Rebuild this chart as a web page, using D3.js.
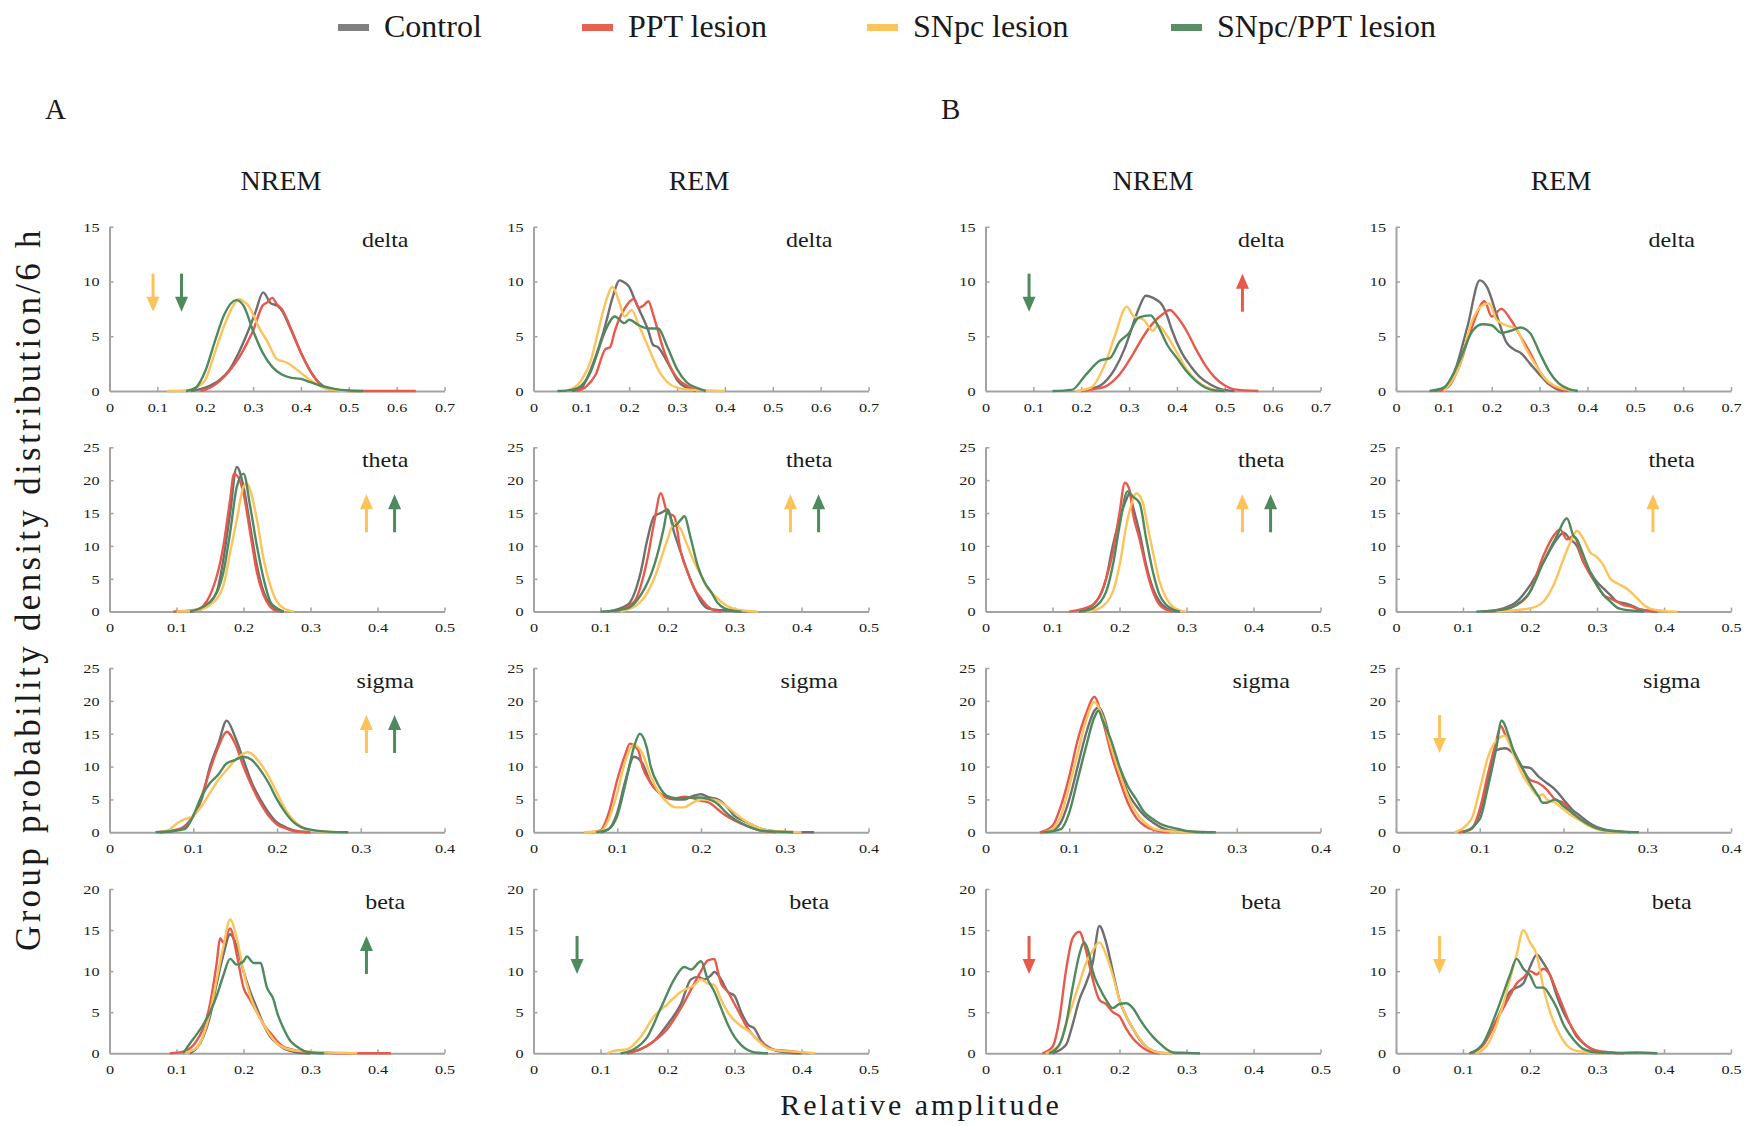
<!DOCTYPE html>
<html><head><meta charset="utf-8">
<script src="https://cdn.jsdelivr.net/npm/d3@7"></script>
<style>
html,body{margin:0;padding:0;background:#fff;}
svg{display:block;}
text{font-family:"Liberation Serif","Times New Roman",serif;fill:#1a1a1a;}
</style></head>
<body>
<svg id="chart" width="1747" height="1126"></svg>
<script>
// ---------- labels / categories ----------
const seriesNames = ["Control", "PPT lesion", "SNpc lesion", "SNpc/PPT lesion"];
const seriesColors = ["#6f6f6f", "#e8594b", "#fcc35a", "#4f8a5f"];
const legendColors = ["#808080", "#e8604e", "#fcc45c", "#5a8e66"];
const groupLabels = ["A", "B"];
const stateLabels = ["NREM", "REM", "NREM", "REM"];
const bandLabels = ["delta", "theta", "sigma", "beta"];
const xMaxByBand = [0.7, 0.5, 0.4, 0.5];
const yMaxByBand = [15, 25, 25, 20];
const xTicksDelta = [0, 0.1, 0.2, 0.3, 0.4, 0.5, 0.6, 0.7];
const xTicksTheta = [0, 0.1, 0.2, 0.3, 0.4, 0.5];
const xTicksSigma = [0, 0.1, 0.2, 0.3, 0.4];
const xTicksBeta = [0, 0.1, 0.2, 0.3, 0.4, 0.5];
const yTicksDelta = [0, 5, 10, 15];
const yTicksTheta = [0, 5, 10, 15, 20, 25];
const yTicksSigma = [0, 5, 10, 15, 20, 25];
const yTicksBeta = [0, 5, 10, 15, 20];
const yAxisTitle = "Group probability density distribution/6 h";
const xAxisTitle = "Relative amplitude";

// ---------- A: NREM delta ----------
const aNremDeltaCtrl = [[0.17,0],[0.20,0.3],[0.23,1.0],[0.25,1.9],[0.27,3.5],[0.29,5.5],[0.305,7.2],[0.321,9.0],[0.337,8.0],[0.35,7.8],[0.361,7.3],[0.375,6.0],[0.385,5.0],[0.40,3.5],[0.409,2.7],[0.42,1.8],[0.433,1.0],[0.445,0.5],[0.457,0.2],[0.48,0]];
const aNremDeltaPpt = [[0.19,0],[0.21,0.3],[0.23,0.9],[0.25,1.8],[0.27,3.0],[0.29,4.6],[0.30,5.5],[0.32,7.8],[0.33,8.1],[0.34,8.5],[0.35,7.9],[0.36,7.5],[0.38,5.6],[0.40,3.5],[0.42,1.8],[0.44,0.6],[0.46,0.15],[0.48,0.05],[0.52,0],[0.64,0]];
const aNremDeltaSnpc = [[0.12,0],[0.16,0.05],[0.18,0.3],[0.20,1.0],[0.22,3.5],[0.24,6.0],[0.255,7.5],[0.27,8.4],[0.28,8.2],[0.29,7.8],[0.30,7.0],[0.31,6.0],[0.33,4.5],[0.35,2.9],[0.37,2.6],[0.39,2.0],[0.41,1.3],[0.43,0.7],[0.45,0.25],[0.48,0.05],[0.52,0]];
const aNremDeltaBoth = [[0.16,0],[0.18,0.3],[0.20,1.8],[0.22,4.5],[0.24,7.0],[0.265,8.3],[0.28,7.8],[0.30,5.5],[0.32,3.5],[0.34,2.2],[0.36,1.5],[0.38,1.2],[0.40,1.1],[0.42,0.8],[0.44,0.5],[0.47,0.2],[0.50,0.05],[0.53,0]];
// ---------- A: REM delta ----------
const aRemDeltaCtrl = [[0.08,0],[0.10,0.3],[0.12,2.0],[0.14,4.5],[0.15,6.0],[0.165,8.5],[0.18,10.1],[0.19,9.9],[0.20,9.5],[0.21,8.5],[0.22,7.5],[0.24,5.5],[0.25,4.2],[0.26,4.0],[0.27,3.4],[0.28,2.6],[0.29,1.8],[0.30,1.0],[0.32,0.3],[0.34,0]];
const aRemDeltaPpt = [[0.09,0],[0.11,0.4],[0.13,1.5],[0.15,3.8],[0.16,4.0],[0.17,5.5],[0.19,7.5],[0.21,8.4],[0.22,7.6],[0.23,7.8],[0.24,8.2],[0.25,7.0],[0.26,5.5],[0.27,4.0],[0.28,2.8],[0.30,1.2],[0.32,0.5],[0.34,0.1],[0.36,0]];
const aRemDeltaSnpc = [[0.07,0],[0.10,1.0],[0.12,2.8],[0.13,4.5],[0.15,8.0],[0.165,9.5],[0.18,8.0],[0.19,6.8],[0.205,7.4],[0.22,6.0],[0.24,4.0],[0.26,2.0],[0.28,0.8],[0.30,0.3],[0.33,0.1],[0.36,0.05],[0.40,0]];
const aRemDeltaBoth = [[0.05,0],[0.08,0.1],[0.10,0.5],[0.12,1.8],[0.13,3.0],[0.15,5.5],[0.17,6.8],[0.19,6.2],[0.20,6.5],[0.22,6.0],[0.24,5.7],[0.26,5.7],[0.28,4.0],[0.30,2.0],[0.32,0.8],[0.34,0.3],[0.36,0]];
// ---------- B: NREM delta ----------
const bNremDeltaCtrl = [[0.20,0],[0.22,0.2],[0.24,0.5],[0.27,2.0],[0.29,3.8],[0.30,5.0],[0.32,7.5],[0.335,8.7],[0.35,8.5],[0.37,7.8],[0.38,6.8],[0.39,5.5],[0.41,3.5],[0.43,2.2],[0.45,1.2],[0.47,0.6],[0.49,0.2],[0.52,0]];
const bNremDeltaPpt = [[0.20,0],[0.23,0.2],[0.25,0.4],[0.28,1.5],[0.31,3.5],[0.33,5.0],[0.35,6.2],[0.37,7.0],[0.385,7.4],[0.40,6.8],[0.42,5.5],[0.44,3.8],[0.46,2.3],[0.48,1.2],[0.50,0.5],[0.52,0.15],[0.57,0]];
const bNremDeltaSnpc = [[0.19,0],[0.22,0.3],[0.25,2.5],[0.27,5.0],[0.295,7.7],[0.31,6.8],[0.33,6.5],[0.35,5.5],[0.36,6.0],[0.38,5.0],[0.40,3.5],[0.42,2.0],[0.44,1.0],[0.46,0.4],[0.48,0.1],[0.50,0]];
const bNremDeltaBoth = [[0.14,0],[0.18,0.1],[0.21,1.5],[0.24,2.8],[0.26,3.0],[0.28,4.5],[0.30,5.3],[0.32,6.7],[0.345,6.9],[0.36,6.0],[0.38,4.2],[0.40,3.0],[0.42,1.8],[0.44,0.9],[0.46,0.3],[0.48,0.05],[0.50,0]];
// ---------- B: REM delta ----------
const bRemDeltaCtrl = [[0.08,0],[0.10,0.3],[0.12,1.5],[0.15,6.0],[0.175,10.1],[0.19,9.5],[0.21,7.0],[0.23,4.5],[0.25,3.7],[0.26,3.5],[0.28,2.5],[0.30,1.5],[0.32,0.6],[0.34,0.1],[0.35,0]];
const bRemDeltaPpt = [[0.09,0],[0.11,0.4],[0.13,2.0],[0.16,6.0],[0.185,8.2],[0.20,6.8],[0.22,7.5],[0.24,6.5],[0.26,5.0],[0.28,3.5],[0.30,1.8],[0.32,0.7],[0.34,0.2],[0.36,0]];
const bRemDeltaSnpc = [[0.10,0],[0.13,2.0],[0.16,6.5],[0.18,7.8],[0.195,8.0],[0.21,6.5],[0.23,6.0],[0.25,5.7],[0.27,4.0],[0.29,2.5],[0.31,1.2],[0.33,0.5],[0.35,0.2],[0.37,0.05],[0.38,0]];
const bRemDeltaBoth = [[0.07,0],[0.10,0.3],[0.13,2.5],[0.16,5.5],[0.18,6.1],[0.20,6.0],[0.22,5.3],[0.24,5.5],[0.26,5.8],[0.28,5.3],[0.30,3.5],[0.32,1.8],[0.34,0.7],[0.36,0.2],[0.38,0]];

// ---------- A: NREM theta ----------
const aNremThetaCtrl = [[0.12,0],[0.14,0.5],[0.16,3.0],[0.17,8.0],[0.18,15.0],[0.19,22.0],[0.20,19.0],[0.21,13.0],[0.22,7.0],[0.23,3.0],[0.24,1.0],[0.25,0.2],[0.26,0]];
const aNremThetaPpt = [[0.095,0],[0.13,0.3],[0.15,2.5],[0.17,10.0],[0.18,17.0],[0.186,21.0],[0.20,18.0],[0.21,12.0],[0.22,6.0],[0.23,2.5],[0.24,0.7],[0.25,0.1],[0.26,0]];
const aNremThetaSnpc = [[0.10,0],[0.13,0.2],[0.15,1.0],[0.17,4.0],[0.18,9.0],[0.19,14.0],[0.20,19.0],[0.205,19.5],[0.21,18.5],[0.22,14.0],[0.23,8.0],[0.24,4.0],[0.25,1.5],[0.26,0.5],[0.27,0.1],[0.275,0]];
const aNremThetaBoth = [[0.12,0],[0.15,1.5],[0.17,6.0],[0.18,12.0],[0.19,19.0],[0.20,21.0],[0.21,16.0],[0.22,10.0],[0.23,5.0],[0.24,1.5],[0.25,0.5],[0.26,0]];
// ---------- A: REM theta ----------
const aRemThetaCtrl = [[0.11,0],[0.14,1.0],[0.16,6.0],[0.17,11.0],[0.18,14.5],[0.19,15.0],[0.20,15.5],[0.21,12.0],[0.22,9.0],[0.23,6.0],[0.24,3.5],[0.25,1.5],[0.26,0.5],[0.28,0.2],[0.30,0.1],[0.32,0]];
const aRemThetaPpt = [[0.12,0],[0.15,1.5],[0.17,8.0],[0.18,13.5],[0.19,18.0],[0.20,15.0],[0.21,14.5],[0.22,9.0],[0.23,6.0],[0.24,3.5],[0.25,2.0],[0.26,0.8],[0.27,0.2],[0.28,0]];
const aRemThetaSnpc = [[0.13,0],[0.16,1.5],[0.18,5.0],[0.20,11.0],[0.21,13.5],[0.22,12.5],[0.23,10.0],[0.24,7.5],[0.25,5.5],[0.26,3.5],[0.27,2.5],[0.28,1.5],[0.29,0.8],[0.30,0.4],[0.32,0.1],[0.335,0]];
const aRemThetaBoth = [[0.10,0],[0.14,0.5],[0.16,2.5],[0.18,7.0],[0.195,13.0],[0.20,15.5],[0.21,13.0],[0.22,14.0],[0.225,14.5],[0.235,11.0],[0.245,7.0],[0.255,4.5],[0.265,3.0],[0.275,1.3],[0.285,0.5],[0.30,0.1],[0.31,0]];
// ---------- B: NREM theta ----------
const bNremThetaCtrl = [[0.14,0],[0.16,1.0],[0.18,5.0],[0.19,10.0],[0.20,14.0],[0.21,17.0],[0.215,18.0],[0.22,16.0],[0.23,12.0],[0.24,7.0],[0.25,3.5],[0.26,1.5],[0.27,0.5],[0.28,0.1],[0.29,0]];
const bNremThetaPpt = [[0.125,0],[0.16,1.0],[0.18,5.0],[0.19,9.0],[0.20,15.0],[0.208,19.6],[0.215,18.5],[0.22,15.0],[0.23,11.0],[0.24,6.5],[0.25,3.0],[0.26,1.0],[0.27,0.3],[0.28,0]];
const bNremThetaSnpc = [[0.15,0],[0.17,0.5],[0.19,3.0],[0.20,7.0],[0.21,13.0],[0.22,17.0],[0.225,18.0],[0.235,16.5],[0.24,14.0],[0.25,9.0],[0.26,4.5],[0.27,2.0],[0.28,0.7],[0.29,0.2],[0.30,0]];
const bNremThetaBoth = [[0.14,0],[0.16,0.5],[0.18,3.0],[0.19,7.0],[0.20,13.0],[0.212,18.3],[0.22,17.5],[0.23,16.5],[0.24,11.0],[0.25,6.0],[0.26,2.5],[0.27,1.0],[0.28,0.3],[0.29,0]];
// ---------- B: REM theta ----------
const bRemThetaCtrl = [[0.13,0],[0.16,0.5],[0.18,1.5],[0.20,4.0],[0.22,7.5],[0.24,11.0],[0.25,12.0],[0.26,11.0],[0.27,10.0],[0.28,7.5],[0.29,6.0],[0.30,4.5],[0.31,3.5],[0.32,2.5],[0.33,1.5],[0.34,1.3],[0.35,1.0],[0.36,0.5],[0.38,0.1],[0.39,0]];
const bRemThetaPpt = [[0.14,0],[0.18,1.0],[0.20,3.0],[0.22,8.5],[0.235,11.5],[0.245,12.5],[0.255,11.0],[0.265,11.5],[0.28,7.5],[0.30,4.0],[0.31,2.5],[0.32,2.0],[0.33,1.5],[0.34,1.0],[0.35,0.8],[0.36,0.4],[0.38,0.1],[0.39,0]];
const bRemThetaSnpc = [[0.15,0],[0.20,0.5],[0.22,1.5],[0.235,4.0],[0.25,8.0],[0.26,10.5],[0.27,12.3],[0.28,11.0],[0.29,9.0],[0.30,8.3],[0.31,7.0],[0.32,5.0],[0.33,4.3],[0.34,3.8],[0.35,3.0],[0.36,2.0],[0.37,1.0],[0.38,0.4],[0.40,0.1],[0.42,0]];
const bRemThetaBoth = [[0.12,0],[0.16,0.3],[0.18,1.0],[0.20,3.0],[0.22,7.5],[0.24,11.5],[0.255,14.2],[0.265,11.5],[0.27,11.0],[0.28,8.5],[0.29,6.0],[0.30,4.0],[0.31,2.5],[0.32,1.5],[0.33,0.6],[0.34,0.3],[0.36,0.1],[0.37,0]];

// ---------- A: NREM sigma ----------
const aNremSigmaCtrl = [[0.06,0],[0.08,0.3],[0.10,2.5],[0.11,5.0],[0.12,10.0],[0.13,13.5],[0.14,17.0],[0.15,14.5],[0.16,11.0],[0.17,7.5],[0.18,5.0],[0.19,3.0],[0.20,1.5],[0.21,0.8],[0.22,0.3],[0.24,0]];
const aNremSigmaPpt = [[0.06,0],[0.09,0.8],[0.10,2.5],[0.11,5.5],[0.12,9.5],[0.13,13.0],[0.14,15.3],[0.15,13.5],[0.16,10.0],[0.17,7.0],[0.18,4.5],[0.19,2.5],[0.20,1.2],[0.21,0.6],[0.22,0.2],[0.24,0]];
const aNremSigmaSnpc = [[0.055,0],[0.07,0.3],[0.08,1.3],[0.09,2.0],[0.10,2.5],[0.11,4.0],[0.12,6.0],[0.13,8.0],[0.14,9.5],[0.15,11.0],[0.165,12.2],[0.18,10.5],[0.19,8.5],[0.20,6.0],[0.21,3.5],[0.22,1.8],[0.23,0.8],[0.24,0.3],[0.26,0.1],[0.28,0]];
const aNremSigmaBoth = [[0.055,0],[0.09,0.5],[0.10,2.5],[0.11,5.5],[0.12,7.5],[0.13,8.8],[0.14,10.5],[0.15,11.0],[0.16,11.5],[0.17,11.0],[0.18,9.5],[0.19,7.5],[0.20,5.0],[0.21,3.0],[0.22,1.5],[0.23,0.7],[0.24,0.4],[0.26,0.1],[0.285,0]];
// ---------- A: REM sigma ----------
const aRemSigmaCtrl = [[0.08,0],[0.09,0.5],[0.10,3.0],[0.11,8.0],[0.12,11.5],[0.13,10.5],[0.14,7.5],[0.15,6.0],[0.16,5.2],[0.17,5.0],[0.18,5.0],[0.19,5.5],[0.20,5.8],[0.21,5.3],[0.22,5.0],[0.23,4.0],[0.24,2.5],[0.25,1.8],[0.26,1.2],[0.27,0.6],[0.28,0.3],[0.30,0.1],[0.335,0]];
const aRemSigmaPpt = [[0.07,0],[0.08,0.3],[0.09,3.0],[0.10,8.0],[0.11,12.0],[0.115,13.5],[0.125,12.5],[0.13,10.0],[0.14,7.5],[0.15,6.0],[0.16,5.3],[0.17,5.2],[0.18,5.4],[0.19,5.2],[0.20,4.8],[0.21,4.5],[0.22,3.5],[0.23,2.5],[0.24,1.8],[0.25,1.2],[0.26,0.7],[0.27,0.3],[0.29,0]];
const aRemSigmaSnpc = [[0.06,0],[0.08,0.2],[0.09,2.0],[0.10,6.0],[0.11,11.0],[0.12,13.3],[0.13,12.0],[0.14,8.5],[0.15,6.0],[0.16,4.5],[0.17,3.8],[0.18,3.8],[0.19,4.5],[0.20,5.0],[0.21,5.0],[0.22,4.8],[0.23,4.0],[0.24,3.0],[0.25,2.0],[0.26,1.2],[0.27,0.6],[0.28,0.3],[0.30,0.1],[0.32,0]];
const aRemSigmaBoth = [[0.075,0],[0.09,0.5],[0.10,2.5],[0.11,7.5],[0.12,13.0],[0.127,15.0],[0.135,13.0],[0.14,10.0],[0.15,7.0],[0.16,5.5],[0.17,5.2],[0.18,5.2],[0.19,5.3],[0.20,5.3],[0.21,5.0],[0.22,4.3],[0.23,3.0],[0.24,2.0],[0.25,1.3],[0.26,0.7],[0.27,0.3],[0.29,0.1],[0.31,0]];
// ---------- B: NREM sigma ----------
const bNremSigmaCtrl = [[0.065,0],[0.08,0.3],[0.09,1.5],[0.10,5.0],[0.11,10.0],[0.12,15.0],[0.13,18.5],[0.135,19.0],[0.145,16.0],[0.15,13.0],[0.16,9.5],[0.17,6.0],[0.18,4.0],[0.19,2.5],[0.20,1.5],[0.21,0.7],[0.22,0.3],[0.24,0.1],[0.26,0]];
const bNremSigmaPpt = [[0.065,0],[0.08,1.0],[0.09,4.0],[0.10,8.5],[0.11,14.0],[0.12,18.0],[0.13,20.6],[0.14,17.0],[0.15,12.0],[0.16,8.0],[0.17,4.5],[0.18,2.2],[0.19,1.0],[0.20,0.4],[0.21,0.1],[0.22,0]];
const bNremSigmaSnpc = [[0.07,0],[0.08,0.5],[0.09,2.5],[0.10,7.0],[0.11,12.0],[0.12,17.0],[0.13,19.8],[0.14,17.5],[0.15,13.0],[0.16,9.0],[0.17,5.5],[0.18,3.0],[0.19,1.5],[0.20,0.6],[0.21,0.3],[0.23,0.1],[0.25,0]];
const bNremSigmaBoth = [[0.07,0],[0.09,0.5],[0.10,3.0],[0.11,8.0],[0.12,13.0],[0.13,17.5],[0.135,18.5],[0.14,17.0],[0.15,14.0],[0.16,10.0],[0.17,7.0],[0.18,5.0],[0.19,3.0],[0.20,2.0],[0.21,1.2],[0.22,0.8],[0.23,0.5],[0.24,0.2],[0.26,0.05],[0.275,0]];
// ---------- B: REM sigma ----------
const bRemSigmaCtrl = [[0.075,0],[0.09,0.5],[0.10,3.0],[0.11,8.0],[0.12,12.5],[0.13,12.8],[0.14,12.0],[0.15,10.0],[0.16,9.8],[0.17,8.5],[0.18,7.5],[0.19,6.5],[0.20,5.0],[0.21,3.5],[0.22,2.5],[0.23,1.5],[0.24,0.8],[0.25,0.4],[0.27,0.1],[0.28,0]];
const bRemSigmaPpt = [[0.075,0],[0.09,0.5],[0.10,3.5],[0.11,9.0],[0.12,14.0],[0.125,16.2],[0.13,15.0],[0.14,12.5],[0.15,10.0],[0.16,8.0],[0.17,7.5],[0.18,6.5],[0.19,5.0],[0.20,4.5],[0.21,3.0],[0.22,2.0],[0.23,1.2],[0.24,0.6],[0.25,0.3],[0.26,0.1],[0.27,0]];
const bRemSigmaSnpc = [[0.07,0],[0.09,2.0],[0.10,6.5],[0.11,11.5],[0.12,14.0],[0.13,14.7],[0.14,12.0],[0.15,9.0],[0.16,7.0],[0.17,5.5],[0.175,5.8],[0.18,5.0],[0.19,4.5],[0.20,3.5],[0.21,2.5],[0.22,1.8],[0.23,1.0],[0.24,0.5],[0.25,0.2],[0.27,0]];
const bRemSigmaBoth = [[0.08,0],[0.10,2.0],[0.11,7.0],[0.12,13.0],[0.126,17.0],[0.135,14.5],[0.14,12.5],[0.15,10.0],[0.16,7.5],[0.17,5.5],[0.175,4.5],[0.18,4.5],[0.19,5.0],[0.20,4.0],[0.21,3.0],[0.22,2.0],[0.23,1.2],[0.24,0.6],[0.25,0.3],[0.27,0.1],[0.29,0]];

// ---------- A: NREM beta ----------
const aNremBetaCtrl = [[0.12,0],[0.14,2.0],[0.15,4.5],[0.16,8.5],[0.17,12.0],[0.18,14.5],[0.19,13.0],[0.20,10.0],[0.21,7.5],[0.22,5.5],[0.23,3.5],[0.24,2.0],[0.25,1.2],[0.26,0.6],[0.27,0.3],[0.28,0.1],[0.30,0]];
const aNremBetaPpt = [[0.09,0],[0.11,0.2],[0.13,1.5],[0.15,6.0],[0.16,11.0],[0.165,14.0],[0.17,13.5],[0.18,15.2],[0.19,12.0],[0.20,8.0],[0.21,6.5],[0.22,5.0],[0.23,3.5],[0.24,2.5],[0.25,1.5],[0.26,0.8],[0.27,0.5],[0.29,0.2],[0.32,0.1],[0.34,0],[0.42,0]];
const aNremBetaSnpc = [[0.11,0],[0.13,0.7],[0.15,5.0],[0.16,9.0],[0.17,13.0],[0.18,16.3],[0.19,14.0],[0.20,10.0],[0.21,7.0],[0.22,5.0],[0.23,3.5],[0.24,2.2],[0.25,1.2],[0.26,0.7],[0.28,0.3],[0.30,0.2],[0.33,0.1],[0.37,0]];
const aNremBetaBoth = [[0.11,0],[0.12,1.2],[0.13,2.3],[0.14,3.5],[0.15,5.0],[0.16,7.0],[0.17,9.5],[0.18,11.5],[0.19,10.8],[0.20,11.2],[0.205,11.8],[0.215,11.0],[0.225,11.0],[0.235,8.0],[0.245,6.5],[0.25,5.0],[0.26,3.0],[0.27,1.5],[0.28,0.8],[0.29,0.3],[0.30,0.1],[0.32,0]];
// ---------- A: REM beta ----------
const aRemBetaCtrl = [[0.14,0],[0.16,0.5],[0.18,1.5],[0.20,3.5],[0.22,6.0],[0.235,9.0],[0.245,9.3],[0.255,9.0],[0.265,9.5],[0.27,9.9],[0.28,9.0],[0.29,7.5],[0.30,7.0],[0.31,5.0],[0.32,3.5],[0.33,3.0],[0.34,1.5],[0.35,0.8],[0.36,0.4],[0.38,0.1],[0.40,0]];
const aRemBetaPpt = [[0.14,0],[0.16,0.5],[0.18,1.5],[0.20,3.0],[0.22,5.5],[0.24,8.5],[0.25,10.0],[0.26,11.3],[0.27,11.5],[0.275,10.0],[0.28,8.5],[0.29,7.5],[0.30,6.0],[0.31,4.5],[0.32,3.0],[0.33,2.0],[0.34,1.3],[0.35,0.7],[0.36,0.4],[0.38,0.3],[0.40,0.1],[0.41,0]];
const aRemBetaSnpc = [[0.11,0],[0.12,0.3],[0.14,0.5],[0.16,2.0],[0.18,4.5],[0.20,6.0],[0.22,7.5],[0.24,8.3],[0.25,9.0],[0.26,8.5],[0.27,8.3],[0.28,6.5],[0.29,5.0],[0.30,4.0],[0.31,3.3],[0.32,2.8],[0.33,2.0],[0.34,1.2],[0.35,0.6],[0.37,0.3],[0.39,0.2],[0.42,0]];
const aRemBetaBoth = [[0.13,0],[0.15,0.5],[0.17,2.0],[0.19,5.5],[0.21,9.0],[0.225,10.5],[0.235,10.2],[0.25,11.2],[0.26,9.0],[0.27,7.5],[0.28,5.5],[0.29,3.5],[0.30,2.0],[0.31,1.0],[0.32,0.4],[0.33,0.1],[0.35,0]];
// ---------- B: NREM beta ----------
const bNremBetaCtrl = [[0.10,0],[0.12,1.0],[0.13,3.5],[0.14,6.5],[0.15,8.5],[0.16,11.0],[0.17,15.5],[0.18,13.5],[0.19,10.0],[0.20,6.5],[0.21,4.5],[0.22,3.0],[0.23,1.7],[0.24,0.8],[0.25,0.3],[0.27,0]];
const bNremBetaPpt = [[0.085,0],[0.10,0.8],[0.11,4.0],[0.12,10.0],[0.13,14.0],[0.14,14.8],[0.15,12.5],[0.16,9.0],[0.17,6.5],[0.18,6.0],[0.19,5.0],[0.20,4.5],[0.21,3.0],[0.22,1.8],[0.23,1.0],[0.24,0.4],[0.25,0.1],[0.26,0]];
const bNremBetaSnpc = [[0.09,0],[0.11,1.0],[0.12,3.5],[0.13,6.0],[0.14,8.5],[0.15,11.0],[0.16,12.5],[0.17,13.5],[0.18,12.0],[0.19,9.5],[0.20,6.5],[0.21,4.5],[0.22,3.0],[0.23,1.8],[0.24,0.8],[0.25,0.3],[0.26,0.1],[0.28,0]];
const bNremBetaBoth = [[0.095,0],[0.11,1.0],[0.12,3.5],[0.13,8.0],[0.14,12.0],[0.147,13.5],[0.155,12.0],[0.16,10.0],[0.17,8.0],[0.18,6.5],[0.19,5.5],[0.20,6.0],[0.21,6.1],[0.22,5.5],[0.23,4.2],[0.24,3.0],[0.25,2.0],[0.26,1.2],[0.27,0.5],[0.28,0.1],[0.30,0.05],[0.32,0]];
// ---------- B: REM beta ----------
const bRemBetaCtrl = [[0.11,0],[0.13,1.0],[0.15,4.0],[0.17,7.5],[0.19,8.5],[0.20,10.5],[0.21,12.0],[0.22,11.0],[0.23,9.5],[0.24,7.0],[0.25,5.0],[0.26,3.5],[0.27,2.0],[0.28,1.2],[0.29,0.6],[0.30,0.3],[0.32,0.1],[0.34,0]];
const bRemBetaPpt = [[0.11,0],[0.13,1.0],[0.15,4.0],[0.17,7.0],[0.18,8.5],[0.19,9.2],[0.20,10.0],[0.21,9.6],[0.22,10.3],[0.23,9.5],[0.24,7.5],[0.25,5.5],[0.26,3.5],[0.27,2.2],[0.28,1.2],[0.29,0.6],[0.30,0.3],[0.32,0.1],[0.33,0]];
const bRemBetaSnpc = [[0.12,0],[0.14,1.5],[0.16,6.0],[0.17,9.0],[0.18,12.0],[0.19,15.0],[0.20,13.5],[0.21,12.0],[0.22,8.0],[0.23,5.0],[0.24,3.0],[0.25,1.5],[0.26,0.6],[0.27,0.3],[0.29,0.1],[0.31,0]];
const bRemBetaBoth = [[0.11,0],[0.13,1.2],[0.15,5.0],[0.17,9.5],[0.18,11.5],[0.19,10.3],[0.20,9.5],[0.21,8.0],[0.22,8.0],[0.23,7.0],[0.24,5.5],[0.25,3.5],[0.26,2.2],[0.27,1.2],[0.28,0.5],[0.30,0.1],[0.33,0.05],[0.36,0.1],[0.39,0]];

// ---------- significance arrows: [column, bandRow, seriesIndex, direction, slot] ----------
const arrowMarks = [
  [0,0,2,"down",0],[0,0,3,"down",1],
  [0,1,2,"up",0],[0,1,3,"up",1],
  [0,2,2,"up",0],[0,2,3,"up",1],
  [0,3,3,"up",0],
  [1,1,2,"up",0],[1,1,3,"up",1],
  [1,3,3,"down",0],
  [2,0,3,"down",0],[2,0,1,"up",0],
  [2,1,2,"up",0],[2,1,3,"up",1],
  [2,3,1,"down",0],
  [3,1,2,"up",0],
  [3,2,2,"down",0],
  [3,3,2,"down",0]
];

// ---------- panel table built from the arrays ----------
const xTicksByBand = [xTicksDelta, xTicksTheta, xTicksSigma, xTicksBeta];
const yTicksByBand = [yTicksDelta, yTicksTheta, yTicksSigma, yTicksBeta];
const panelSeries = [
  [[aNremDeltaCtrl,aNremDeltaPpt,aNremDeltaSnpc,aNremDeltaBoth],[aNremThetaCtrl,aNremThetaPpt,aNremThetaSnpc,aNremThetaBoth],[aNremSigmaCtrl,aNremSigmaPpt,aNremSigmaSnpc,aNremSigmaBoth],[aNremBetaCtrl,aNremBetaPpt,aNremBetaSnpc,aNremBetaBoth]],
  [[aRemDeltaCtrl,aRemDeltaPpt,aRemDeltaSnpc,aRemDeltaBoth],[aRemThetaCtrl,aRemThetaPpt,aRemThetaSnpc,aRemThetaBoth],[aRemSigmaCtrl,aRemSigmaPpt,aRemSigmaSnpc,aRemSigmaBoth],[aRemBetaCtrl,aRemBetaPpt,aRemBetaSnpc,aRemBetaBoth]],
  [[bNremDeltaCtrl,bNremDeltaPpt,bNremDeltaSnpc,bNremDeltaBoth],[bNremThetaCtrl,bNremThetaPpt,bNremThetaSnpc,bNremThetaBoth],[bNremSigmaCtrl,bNremSigmaPpt,bNremSigmaSnpc,bNremSigmaBoth],[bNremBetaCtrl,bNremBetaPpt,bNremBetaSnpc,bNremBetaBoth]],
  [[bRemDeltaCtrl,bRemDeltaPpt,bRemDeltaSnpc,bRemDeltaBoth],[bRemThetaCtrl,bRemThetaPpt,bRemThetaSnpc,bRemThetaBoth],[bRemSigmaCtrl,bRemSigmaPpt,bRemSigmaSnpc,bRemSigmaBoth],[bRemBetaCtrl,bRemBetaPpt,bRemBetaSnpc,bRemBetaBoth]]
];

// ---------- layout ----------
const colX = [109.5, 533.5, 985.5, 1396];
const rowTop = [226.7, 447.3, 668, 889];
const panelW = 335, panelH = 164.3;
const titleX = [281, 699, 1153, 1561];
const axisColor = "#a3a3a3";
const TX = 1.2; // horizontal stretch of small panel texts (as in the source figure)

const svg = d3.select("#chart");

// legend
const legendSwatchX = [338, 582, 867, 1171];
const lg = svg.append("g");
seriesNames.forEach((name, i) => {
  lg.append("rect").attr("x", legendSwatchX[i]).attr("y", 24).attr("width", 31).attr("height", 7)
    .attr("fill", legendColors[i]);
  lg.append("text").attr("x", legendSwatchX[i] + 46).attr("y", 37)
    .attr("font-size", 32).text(name);
});

// group letters
svg.append("text").attr("x", 45).attr("y", 119).attr("font-size", 29).text(groupLabels[0]);
svg.append("text").attr("x", 941).attr("y", 119).attr("font-size", 29).text(groupLabels[1]);

// column titles
stateLabels.forEach((s, c) => {
  svg.append("text").attr("x", titleX[c]).attr("y", 190)
    .attr("text-anchor", "middle").attr("font-size", 28).text(s);
});

// axis titles
svg.append("text").attr("transform", "translate(40,589) rotate(-90)")
  .attr("text-anchor", "middle").attr("font-size", 35).attr("letter-spacing", "3.3px")
  .text(yAxisTitle);
svg.append("text").attr("x", 921).attr("y", 1115).attr("text-anchor", "middle")
  .attr("font-size", 30).attr("letter-spacing", "3px").text(xAxisTitle);

const fmtX = d => d === 0 ? "0" : d3.format(".1f")(d);
const line = d3.line().curve(d3.curveMonotoneX);

for (let c = 0; c < 4; c++) {
  for (let r = 0; r < 4; r++) {
    const x0 = colX[c], top = rowTop[r];
    const x = d3.scaleLinear().domain([0, xMaxByBand[r]]).range([x0, x0 + panelW]);
    const y = d3.scaleLinear().domain([0, yMaxByBand[r]]).range([top + panelH, top]);
    const g = svg.append("g");

    // x axis
    const gx = g.append("g").attr("transform", `translate(0,${top + panelH})`)
      .call(d3.axisBottom(x).tickValues(xTicksByBand[r]).tickFormat(fmtX)
        .tickSizeInner(-4).tickSizeOuter(0).tickPadding(11));
    // y axis
    const gy = g.append("g").attr("transform", `translate(${x0},0)`)
      .call(d3.axisLeft(y).tickValues(yTicksByBand[r])
        .tickSizeInner(-4).tickSizeOuter(0).tickPadding(10));
    [gx, gy].forEach(ax => {
      ax.select(".domain").attr("stroke", axisColor).attr("stroke-width", 2);
      ax.selectAll(".tick line").attr("stroke", axisColor).attr("stroke-width", 1.5);
      ax.selectAll(".tick text").attr("fill", "#222").attr("font-size", 13.5)
        .attr("font-family", '"Liberation Serif","Times New Roman",serif');
    });
    gx.selectAll(".tick text").attr("transform", `scale(${TX},1)`);
    gy.selectAll(".tick text").attr("transform", `scale(${TX},1)`).attr("x", -10 / TX);
    gy.selectAll(".tick line").filter(d => d === 0).remove();

    // curves
    panelSeries[c][r].forEach((pts, si) => {
      g.append("path")
        .attr("d", line(pts.map(p => [x(p[0]), y(p[1])])))
        .attr("fill", "none").attr("stroke", seriesColors[si])
        .attr("stroke-width", 2.4).attr("stroke-linejoin", "round");
    });

    // band label
    g.append("text")
      .attr("transform", `translate(${x0 + panelW * 0.823},${top + 20}) scale(${TX},1)`)
      .attr("text-anchor", "middle").attr("font-size", 20).text(bandLabels[r]);
  }
}

// arrows
const downSlots = [0.13, 0.215], upSlots = [0.767, 0.851];
arrowMarks.forEach(([c, r, si, dir, slot]) => {
  const ax = colX[c] + panelW * (dir === "down" ? downSlots[slot] : upSlots[slot]);
  const yTop = rowTop[r] + 47, yBot = rowTop[r] + 85;
  const col = seriesColors[si];
  const g = svg.append("g");
  if (dir === "up") {
    g.append("line").attr("x1", ax).attr("x2", ax).attr("y1", yBot).attr("y2", yTop + 12)
      .attr("stroke", col).attr("stroke-width", 3);
    g.append("path").attr("d", `M${ax},${yTop} L${ax - 6.5},${yTop + 15} L${ax + 6.5},${yTop + 15} Z`).attr("fill", col);
  } else {
    g.append("line").attr("x1", ax).attr("x2", ax).attr("y1", yTop).attr("y2", yBot - 12)
      .attr("stroke", col).attr("stroke-width", 3);
    g.append("path").attr("d", `M${ax},${yBot} L${ax - 6.5},${yBot - 15} L${ax + 6.5},${yBot - 15} Z`).attr("fill", col);
  }
});
</script>
</body></html>
